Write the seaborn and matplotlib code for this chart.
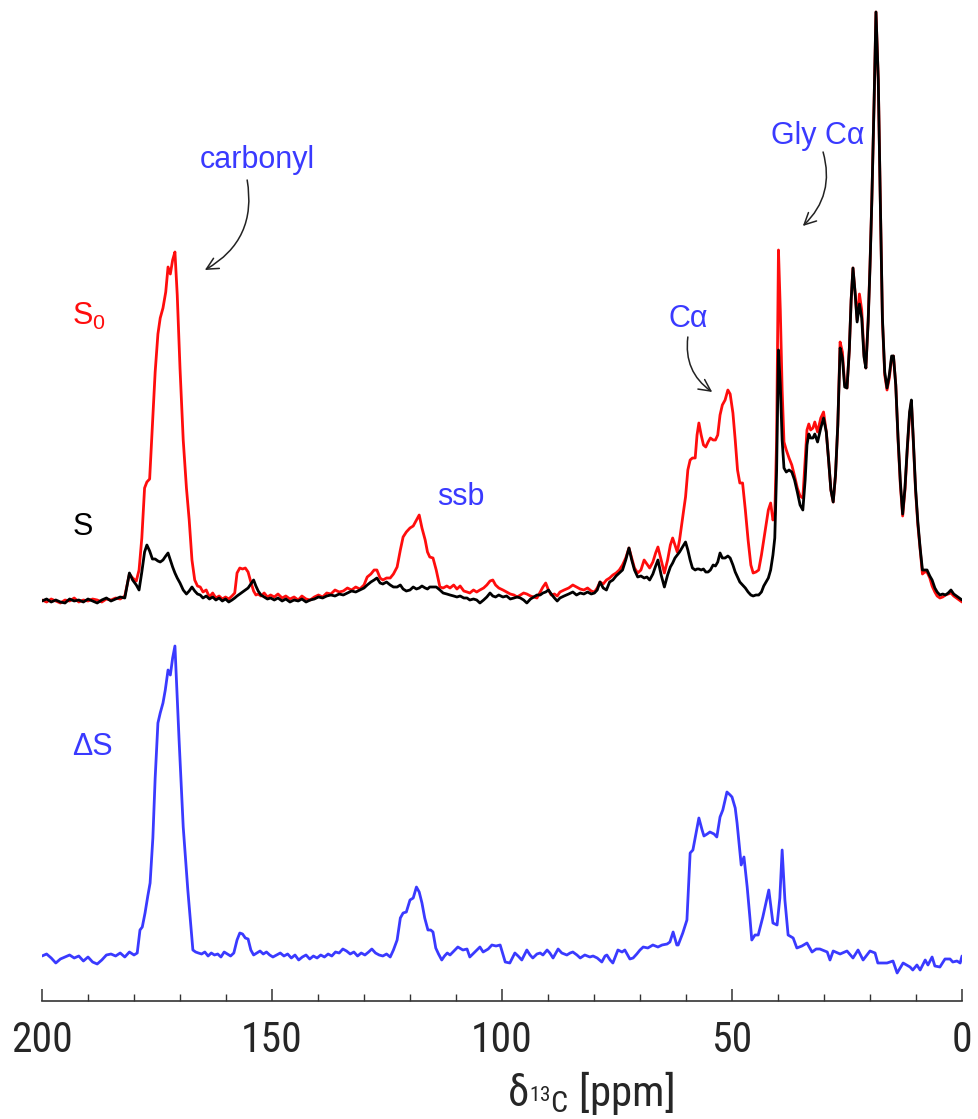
import matplotlib
matplotlib.use("Agg")
import matplotlib.pyplot as plt
from matplotlib.ticker import MultipleLocator
from matplotlib import font_manager
import numpy as np
import pandas as pd
import seaborn as sns

# ---------------- data (ppm, intensity in arbitrary units) ----------------
ppm_top = [
    200, 199, 198, 197, 196, 195, 194, 193, 192, 191, 190, 189, 188, 187, 186, 185, 184, 183, 182,
    181.0, 180.3, 179.5, 178.9, 178.3, 177.7, 177.2, 176.6, 176.0, 175.4, 174.8, 174.3, 173.7, 173.1,
    172.6, 172.1, 171.6, 171.1, 170.6, 170.0, 169.3, 168.6, 168.0, 167.4, 166.8, 166.2, 165.6,
    165.0, 164.3, 163.6, 162.9, 162.2, 161.5, 160.8, 160.1, 159.4, 158.7, 158.1, 157.6, 157.0, 156.4,
    155.8, 155.2, 154.6, 154.0, 153.5, 153.0, 152.4, 151.7, 151.0, 150.3,
    149.5, 148.7, 147.8, 147.0, 146.1, 145.2, 144.3, 143.5, 142.6, 141.7, 140.8, 139.9, 139.0, 138.1,
    137.2, 136.3, 135.4, 134.5, 133.6, 132.7, 131.8, 130.9, 130.0,
    129.3, 128.5, 127.8, 127.2, 126.5, 125.9, 125.1, 124.3, 123.6, 122.8, 122.1, 121.5, 120.8, 120.0,
    119.3, 118.6, 118.0, 117.4, 116.7, 116.2, 115.7, 115.0, 114.3, 113.5,
    112.8, 112.0, 111.3, 110.5, 109.8, 109.1, 108.3, 107.6, 107.0, 106.2, 105.5, 104.8, 104.0, 103.3,
    102.6, 102.0, 101.4, 100.7, 99.8, 99.0, 98.2, 97.4, 96.7, 96.0, 95.3, 94.6, 93.8, 93.1, 92.4,
    91.7, 91.1, 90.5, 89.9, 89.3, 88.6, 88.0, 87.4, 86.5, 85.5, 84.6, 83.8, 83.0, 82.2, 81.4,
    80.6, 79.9, 79.3, 78.7, 78.0, 77.3, 76.6, 75.9, 75.2, 74.5, 73.8,
    73.1, 72.4, 71.8, 71.2, 70.5, 69.8, 69.1, 68.5, 67.9, 67.2, 66.6, 66.1, 65.4, 64.7, 64.0,
    63.4, 62.9, 62.4, 61.9, 61.4, 60.9, 60.5, 60.1, 59.6, 59.1, 58.6, 58.0, 57.6, 57.2,
    56.7, 56.2, 55.7, 55.2, 54.7, 54.1, 53.6, 53.1, 52.6, 52.1, 51.5, 50.9, 50.4, 49.8, 49.3,
    48.8, 48.3, 47.7, 47.1, 46.5, 45.9, 45.4, 44.8, 44.2, 43.6, 43.1, 42.6, 42.1, 41.6, 41.1,
    40.7, 40.3, 39.9, 39.5, 39.1, 38.7, 38.2, 37.6, 37.0, 36.4, 35.8, 35.2, 34.6, 34.1, 33.7,
    33.3, 32.9, 32.4, 32.0, 31.4, 30.7, 30.1,
    29.5, 29.0, 28.5, 28.0, 27.5, 27.0, 26.5, 26.0, 25.5, 25.0, 24.5, 24.1, 23.7, 23.2, 22.8,
    22.3, 21.8, 21.3, 20.9, 20.4, 20.0, 19.6, 19.1, 18.7, 18.2, 17.8, 17.3, 16.8, 16.3, 15.8, 15.3,
    14.9, 14.4, 13.9, 13.4, 12.9, 12.4, 11.9, 11.4, 11.0, 10.6, 10.1, 9.6, 9.1, 8.6, 8.1,
    7.6, 7.0, 6.5, 5.9, 5.4, 4.8, 4.2, 3.6, 3.0, 2.4, 1.8, 1.2, 0.6, 0.0,
]

s0_int = [
    0, -2, 1, -1, -3, 0, -1, 2, -2, 0, -1, 1, 0, -2, 1, 0, 2, 1, 4,
    26, 22, 19, 30, 62, 112, 118, 121, 175, 228, 266, 282, 292, 308,
    333, 326, 340, 348, 305, 232, 160, 112, 80, 40, 20, 14, 13,
    8, 10, 3, 7, 2, 4, 1, 3, 1, 4, 7, 27, 32, 31,
    32, 28, 18, 9, 5, 6, 4, 7, 3, 5,
    3, 6, 2, 4, 1, 3, 0, 4, 1, 0, 3, 5, 3, 7,
    6, 10, 8, 9, 12, 10, 13, 11, 15,
    23, 26, 30, 30, 22, 20, 22, 22, 26, 33, 50, 63, 68, 72,
    74, 80, 85, 72, 60, 48, 43, 42, 30, 13,
    12, 14, 12, 15, 11, 14, 9, 8, 7, 10, 8, 10, 12, 15,
    19, 20, 15, 12, 10, 8, 6, 5, 3, 5, 7, 6, 4, 3, 2,
    8, 13, 17, 10, 5, 6, 4, 8, 10, 12, 15, 13, 11, 10, 12,
    9, 8, 12, 18, 16, 20, 22, 25, 27, 30, 35,
    42, 52, 42, 32, 27, 30, 40, 36, 32, 38, 47, 53, 40, 27, 40,
    55, 62, 55, 48, 60, 77, 90, 103, 130, 140, 142, 142, 165, 177,
    165, 155, 153, 158, 162, 160, 160, 165, 185, 195, 200, 210, 206, 187, 160,
    130, 117, 117, 90, 60, 35, 27, 28, 30, 45, 60, 75, 90, 97, 80,
    85, 160, 350, 290, 210, 158, 150, 142, 135, 124, 112, 104, 102, 140, 170,
    176, 170, 172, 178, 168, 182, 188,
    168, 140, 110, 98, 125, 175, 258, 248, 215, 212, 250, 300, 332, 305, 280,
    306, 290, 245, 232, 280, 335, 400, 500, 588, 520, 410, 280, 225, 210, 222, 242,
    244, 215, 160, 115, 84, 110, 150, 185, 198, 160, 110, 75, 50, 26, 28,
    28, 22, 14, 8, 4, 2, 3, 5, 6, 7, 4, 2, 0, -2,
]

s_int = [
    -1, 1, -2, 0, -2, -3, 1, -1, 0, -2, 1, -1, -3, 0, 2, -1, 1, 3, 2,
    27, 20, 15, 10, 28, 48, 55, 49, 41, 41, 39, 38, 40, 44,
    47, 40, 33, 27, 22, 17, 10, 6, 9, 13, 9, 6, 5,
    2, 4, 1, 3, 0, 2, -1, 1, -2, 0, 2, 4, 6, 8,
    10, 12, 16, 20, 14, 9, 5, 3, 1, 2,
    0, 2, -1, 1, -2, 0, -1, 1, -2, 0, 1, 3, 2, 4,
    5, 4, 6, 5, 7, 9, 8, 10, 12,
    15, 18, 20, 22, 17, 16, 18, 15, 13, 13, 15, 11, 9, 10,
    13, 11, 12, 14, 12, 11, 13, 13, 13, 10,
    7, 6, 5, 4, 3, 4, 2, 2, 0, 1, 0, -3, 0, 3,
    7, 4, 3, 5, 3, 4, 1, 2, 3, 2, 0, -3, 1, 3, 5,
    5, 7, 8, 10, 6, 2, -1, 2, 4, 6, 8, 5, 7, 6, 8,
    6, 7, 10, 18, 12, 10, 18, 20, 24, 27, 30,
    40, 52, 40, 30, 23, 24, 22, 23, 20, 26, 34, 40, 25, 13, 25,
    33, 37, 42, 45, 48, 52, 55, 58, 50, 40, 32, 30, 31, 31,
    30, 31, 28, 28, 30, 35, 34, 38, 47, 42, 42, 44, 42, 35, 28,
    23, 18, 15, 12, 8, 5, 4, 5, 5, 8, 14, 18, 22, 30, 45,
    62, 130, 250, 215, 160, 132, 128, 130, 128, 120, 108, 95, 90, 120, 155,
    166, 162, 162, 166, 158, 172, 182,
    168, 140, 110, 98, 125, 175, 252, 242, 213, 212, 250, 300, 332, 305, 278,
    296, 282, 243, 232, 278, 333, 400, 500, 588, 520, 410, 282, 228, 212, 225, 244,
    244, 215, 162, 118, 86, 112, 152, 188, 200, 162, 112, 78, 52, 30, 30,
    30, 24, 20, 12, 8, 5, 6, 5, 7, 10, 6, 4, 2, 0,
]

ppm_diff = [
    200, 199, 198, 197, 196, 195, 194, 193, 192, 191, 190, 189, 188, 187, 186,
    185, 184, 183, 182, 181, 180, 179.3,
    178.7, 178.2, 177.6, 177.0, 176.5, 175.9, 175.4, 174.8, 174.3, 173.7,
    173.2, 172.6, 172.1, 171.6, 171.1, 170.6, 170.2, 169.7, 169.3, 168.8,
    168.3, 167.7, 167.2, 166.6, 166.0,
    165.3, 164.6, 163.9, 163.2, 162.5, 161.8, 161.1, 160.4, 159.7, 159.0,
    158.3, 157.6, 157.0, 156.4, 155.8, 155.2, 154.6, 154.0, 153.3, 152.6,
    151.9, 151.2, 150.5,
    149.8, 149.0, 148.2, 147.4, 146.6, 145.8, 145.0, 144.2, 143.4, 142.6,
    141.8, 141.0, 140.2, 139.4, 138.6, 137.8, 137.0, 136.2, 135.4, 134.6,
    133.8, 133.0, 132.2, 131.4, 130.6, 129.8, 129.0, 128.3, 127.5, 126.7,
    125.9, 125.1, 124.3,
    123.6, 122.8, 122.1, 121.5, 120.8, 120.0, 119.3, 118.6, 118.0, 117.4,
    116.8, 116.1, 115.5, 115.0, 114.4, 113.8, 113.1, 112.5, 111.9, 111.3,
    109.6, 108.5, 107.6, 107.0, 105.9, 104.8, 104.1, 103.0, 102.2, 101.3,
    100.4, 99.3, 98.3, 97.2, 96.5, 95.7, 94.6, 93.9, 93.3, 92.4,
    91.7, 91.1, 90.2, 89.6, 88.9, 87.8, 87.0, 85.9, 85.2, 84.6,
    83.7, 83.0, 82.0, 80.9, 80.2, 79.3, 78.3, 77.6, 77.2, 76.5,
    75.9, 74.8, 73.9, 73.3, 72.2, 71.5, 70.7, 70.0, 69.3, 68.3,
    67.2, 66.1, 65.2, 64.1, 63.5, 62.8, 62.0,
    61.7, 60.7, 59.8, 59.1, 58.5, 57.8, 57.2, 56.5, 56.1, 55.4,
    54.8, 53.9, 53.3, 52.6, 52.0, 51.1, 50.4, 50.0, 49.3, 48.9,
    48.0, 47.4, 46.7, 46.1, 45.7, 45.0, 44.3, 43.3, 42.0, 41.5,
    41.1, 40.2, 39.6, 39.1, 38.5, 37.8, 36.7, 35.9, 34.8, 33.7,
    32.6, 31.7, 30.9, 29.3, 28.7, 28.0, 26.5, 25.0, 23.7, 22.6,
    21.5, 20.0, 18.9, 18.3, 16.3, 15.0, 14.1, 12.8, 11.3, 10.7,
    9.8, 9.1, 8.0, 7.4, 6.5, 5.9, 4.8, 3.7, 2.6, 2.0,
    1.1, 0.4, 0.0,
]

diff_int = [
    2, 4, 0, -5, -1, 1, 3, 0, 2, -3, 1, -4, -6, -2, 3,
    4, 2, 5, 1, 6, 3, 5,
    28, 31, 45, 62, 75, 120, 180, 235, 245, 255,
    268, 288, 283, 300, 312, 260, 218, 170, 131, 100,
    68, 35, 8, 6, 5,
    4, 6, 2, 5, 3, 4, 1, 6, 4, 2,
    5, 18, 25, 24, 20, 19, 8, 3, 5, 7,
    4, 6, 3,
    1, 3, 5, 2, 4, 0, 3, -2, 1, 3,
    -1, 2, 0, 3, 1, 4, 2, 6, 5, 9,
    7, 4, 6, 2, 5, 3, 6, 9, 5, 3,
    2, 4, 1,
    8, 18, 40, 45, 46, 58, 60, 71, 66, 55,
    40, 28, 28, 26, 10, 4, -2, 2, 5, 3,
    11, 8, 9, 1, 6, 11, 6, 9, 13, 12,
    13, -4, -5, 5, 2, -2, 8, 3, 0, 4,
    5, 3, 8, 5, 0, 9, 5, 3, 5, 6,
    3, 0, 3, 1, 2, 0, -4, 2, 3, -2,
    -5, 8, 6, 8, -1, 0, 4, 8, 11, 10,
    13, 11, 13, 14, 16, 26, 13,
    13, 25, 38, 105, 108, 125, 140, 128, 122, 124,
    126, 124, 121, 141, 148, 166, 163, 161, 150, 135,
    93, 101, 71, 40, 18, 23, 23, 41, 68, 50,
    35, 33, 60, 108, 58, 23, 20, 10, 12, 15,
    6, 9, 9, 6, -2, 7, 4, 7, 0, 8,
    -2, 7, 5, -5, -5, -3, -15, -5, -9, -12,
    -7, -12, -2, -7, 1, -8, -9, -1, -1, -4,
    -3, -5, 2,
]

x_ticks = [200, 150, 100, 50, 0]
x_tick_labels = ["200", "150", "100", "50", "0"]

# ---------------- style ----------------
sns.set_theme(style="white")
plt.rcParams["font.family"] = ["Liberation Sans", "DejaVu Sans"]


def pick_narrow():
    names = {f.name for f in font_manager.fontManager.ttflist}
    for cand in ["Liberation Sans Narrow", "Arial Narrow", "Roboto Condensed",
                 "Open Sans Condensed", "DejaVu Sans Condensed"]:
        if cand in names:
            return cand, "normal"
    # condensed style of an installed family
    for f in font_manager.fontManager.ttflist:
        if f.name in ("DejaVu Sans", "Noto Sans", "Roboto", "Open Sans") and \
                str(f.stretch) in ("condensed", "semi-condensed", "500", "600", "700"):
            return f.name, f.stretch
    return "Liberation Sans", "normal"


NARROW, NARROW_STRETCH = pick_narrow()
narrow_kw = dict(family=[NARROW, "Liberation Sans"], fontstretch=NARROW_STRETCH)
if NARROW == "Liberation Sans":
    TICK_FS, LABEL_FS = 28, 29
else:
    TICK_FS, LABEL_FS = 30, 31

plt.rcParams["mathtext.fontset"] = "custom"
plt.rcParams["mathtext.rm"] = NARROW
plt.rcParams["mathtext.it"] = NARROW
plt.rcParams["mathtext.bf"] = NARROW

RED = "#ff0d0d"
BLUE = "#3a3aff"
TOP_OFFSET = 401
BOTTOM_OFFSET = 43

fig = plt.figure(figsize=(9.79, 11.19), dpi=100)
ax = fig.add_axes([42 / 979, 1 - 1001 / 1119, 920 / 979, 1001 / 1119])

df_top = pd.DataFrame({"ppm": ppm_top,
                       "S0": np.array(s0_int) + TOP_OFFSET,
                       "S": np.array(s_int) + TOP_OFFSET})
df_diff = pd.DataFrame({"ppm": ppm_diff, "dS": np.array(diff_int) + BOTTOM_OFFSET})

sns.lineplot(data=df_top, x="ppm", y="S0", ax=ax, color=RED, lw=2.0,
             estimator=None, sort=False)
sns.lineplot(data=df_top, x="ppm", y="S", ax=ax, color="black", lw=2.0,
             estimator=None, sort=False)
sns.lineplot(data=df_diff, x="ppm", y="dS", ax=ax, color=BLUE, lw=2.0,
             estimator=None, sort=False)

ax.set_xlim(200, 0)
ax.set_ylim(0, 1001)
ax.set_yticks([])
ax.set_ylabel("")
for s in ["left", "right", "top"]:
    ax.spines[s].set_visible(False)
ax.spines["bottom"].set_color("#333333")
ax.spines["bottom"].set_linewidth(1.2)
ax.set_xticks(x_ticks)
ax.set_xticklabels(x_tick_labels, fontsize=TICK_FS, **narrow_kw)
ax.xaxis.set_minor_locator(MultipleLocator(10))
ax.tick_params(axis="x", which="major", direction="in", length=9, width=1.1,
               color="#333333", pad=14, bottom=True)
ax.tick_params(axis="x", which="minor", direction="in", length=5, width=1.0,
               color="#333333", bottom=True)

ax.set_xlabel(r"$\mathregular{δ_{{}^{13}C}}$ [ppm]", fontsize=LABEL_FS, **narrow_kw)
ax.xaxis.set_label_coords(0.596, -0.068)

# ---------------- labels & annotations ----------------
fs = 22
ax.text(193.5, 676, r"S$_{\mathregular{0}}$", color=RED, fontsize=fs, ha="left", va="baseline")
ax.text(193.3, 466, "S", color="black", fontsize=fs, ha="left", va="baseline")
ax.text(193.5, 246, "ΔS", color=BLUE, fontsize=fs, ha="left", va="baseline")
ax.text(153.3, 841, "carbonyl", color=BLUE, fontsize=fs, ha="center", va="center")
ax.text(108.9, 504, "ssb", color=BLUE, fontsize=fs, ha="center", va="center")
ax.text(59.6, 682, "Cα", color=BLUE, fontsize=fs, ha="center", va="center")
ax.text(31.3, 865, "Gly Cα", color=BLUE, fontsize=fs, ha="center", va="center")

arrow_kw = dict(arrowstyle="->,head_length=0.7,head_width=0.35", color="#222222",
                lw=1.1, shrinkA=0, shrinkB=0)
ax.annotate("", xy=(164.6, 731), xytext=(155.4, 821),
            arrowprops=dict(connectionstyle="arc3,rad=-0.35", **arrow_kw))
ax.annotate("", xy=(54.3, 609), xytext=(59.6, 664),
            arrowprops=dict(connectionstyle="arc3,rad=0.3", **arrow_kw))
ax.annotate("", xy=(34.6, 775), xytext=(30.2, 849),
            arrowprops=dict(connectionstyle="arc3,rad=-0.3", **arrow_kw))

fig.savefig("out.png", dpi=100)
